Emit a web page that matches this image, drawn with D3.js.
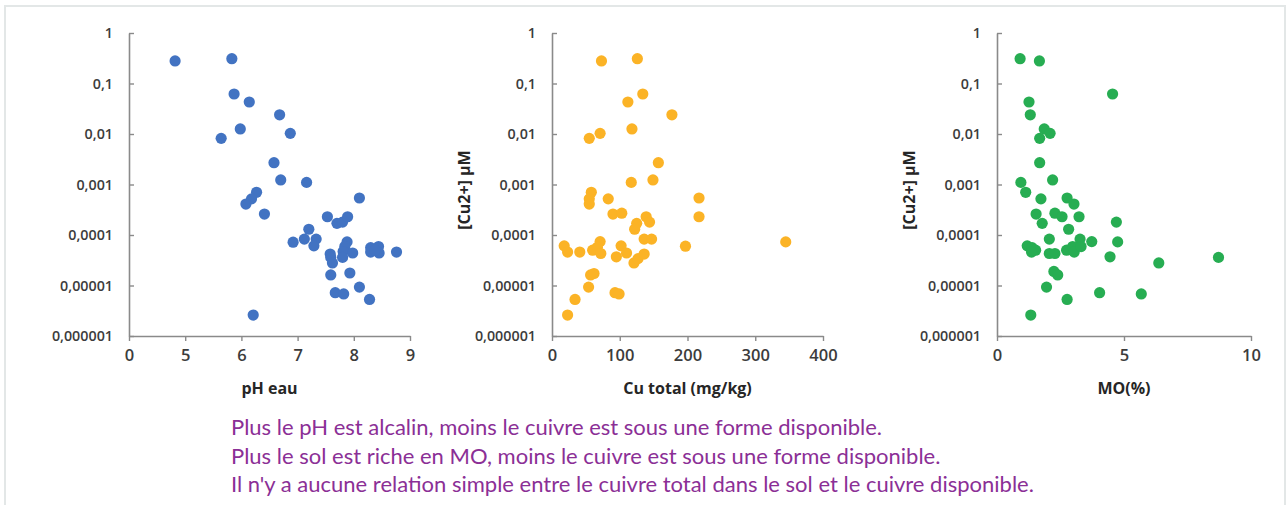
<!DOCTYPE html>
<html lang="fr">
<head>
<meta charset="utf-8">
<script src="https://cdn.jsdelivr.net/npm/d3@7"></script>
<style>
  html, body { margin: 0; padding: 0; background: #ffffff; }
  svg { display: block; }
</style>
</head>
<body>
<svg id="chart" width="1288" height="505"></svg>
<script>
// Dissolved copper [Cu2+] (µM) against three soil properties

// pH eau panel
const phValues = [4.82, 5.83, 5.87, 6.14, 6.68, 5.98, 5.64, 6.87, 6.58, 6.70, 7.16, 6.27, 6.18, 6.08,
  6.41, 8.10, 7.53, 7.70, 7.80, 7.89, 7.20, 6.92, 7.12, 7.33, 7.29, 7.88, 7.84, 7.81, 7.98, 7.80,
  7.58, 7.59, 7.62, 8.30, 8.44, 8.30, 8.45, 8.38, 8.76, 7.59, 7.93, 8.10, 7.67, 7.82, 8.28, 6.21];
const phCu = [0.28, 0.31, 0.062, 0.043, 0.024, 0.0126, 0.0082, 0.0103, 0.0027, 0.00123, 0.0011, 0.0007, 0.00052, 0.00041,
  0.00026, 0.00054, 0.00023, 0.00017, 0.00018, 0.00023, 0.00013, 0.000072, 0.000083, 0.000083, 0.000061, 0.000073, 0.000059, 0.000047, 0.000044, 0.000036,
  0.000042, 0.000036, 0.000028, 0.000056, 0.000059, 0.000046, 0.000044, 0.00005, 0.000046, 0.0000162, 0.0000177, 0.0000093, 0.0000072, 0.0000068, 0.0000053, 0.0000026];

// Cu total panel (mg/kg)
const cuTotalValues = [73, 126, 134, 112, 177, 118, 55, 71, 157, 149, 117, 58, 55, 55, 83, 90, 103, 217, 217,
  139, 144, 125, 122, 136, 147, 197, 345, 18, 23, 41, 60, 71, 67, 72, 102, 110, 95, 121, 127, 136,
  62, 57, 54, 93, 99, 34, 23];
const cuTotalCu = [0.28, 0.31, 0.062, 0.043, 0.024, 0.0126, 0.0082, 0.0103, 0.0027, 0.00123, 0.0011, 0.0007, 0.00052, 0.00041, 0.00052, 0.00026, 0.00027, 0.00054, 0.00023,
  0.00023, 0.00018, 0.00017, 0.00013, 0.000083, 0.000083, 0.00006, 0.000073, 0.000061, 0.000046, 0.000046, 0.00005, 0.000074, 0.000057, 0.000043, 0.000061, 0.000044, 0.000037, 0.000028, 0.000034, 0.000042,
  0.0000173, 0.0000162, 0.0000093, 0.0000072, 0.0000068, 0.0000053, 0.0000026];

// MO panel (%)
const moValues = [0.91, 1.67, 4.55, 1.26, 1.31, 1.86, 2.09, 1.68, 1.68, 0.94, 2.19, 1.13, 1.73, 2.76, 3.03,
  1.54, 2.28, 2.56, 3.23, 1.78, 4.70, 2.82, 2.06, 3.27, 3.73, 4.75, 1.19, 1.38, 1.52, 1.36, 2.06, 2.28,
  2.74, 2.98, 3.04, 3.31, 4.45, 6.37, 8.72, 2.24, 2.39, 1.95, 4.04, 5.68, 2.76, 1.33];
const moCu = [0.31, 0.28, 0.062, 0.043, 0.024, 0.0126, 0.0103, 0.0082, 0.0027, 0.0011, 0.00123, 0.0007, 0.00052, 0.00054, 0.00041,
  0.00026, 0.00027, 0.00023, 0.00023, 0.00017, 0.00018, 0.00013, 0.000083, 0.000083, 0.000074, 0.000073, 0.000061, 0.000056, 0.00005, 0.000046, 0.000043, 0.000043,
  0.00005, 0.000059, 0.000046, 0.000059, 0.000037, 0.000028, 0.000036, 0.000019, 0.0000162, 0.0000093, 0.0000072, 0.0000068, 0.0000053, 0.0000026];

// Shared logarithmic y axis
const yTickValues = [1, 0.1, 0.01, 0.001, 0.0001, 0.00001, 0.000001];
const yTickLabels = ["1", "0,1", "0,01", "0,001", "0,0001", "0,00001", "0,000001"];
const yTitle = "[Cu2+] µM";

// X axes
const phTicks = [4, 5, 6, 7, 8, 9];
const phTickLabels = ["0", "5", "6", "7", "8", "9"];
const cuTotalTicks = [0, 100, 200, 300, 400];
const cuTotalTickLabels = ["0", "100", "200", "300", "400"];
const moTicks = [0, 5, 10];
const moTickLabels = ["0", "5", "10"];

const captionLines = [
  "Plus le pH est alcalin, moins le cuivre est sous une forme disponible.",
  "Plus le sol est riche en MO, moins le cuivre est sous une forme disponible.",
  "Il n'y a aucune relation simple entre le cuivre total dans le sol et le cuivre disponible."
];

const panels = [
  { xs: phValues, ys: phCu, domain: [4, 9], ticks: phTicks, labels: phTickLabels,
    title: "pH eau", color: "#4273c2", left: 129, right: 410, showYTitle: false },
  { xs: cuTotalValues, ys: cuTotalCu, domain: [0, 400], ticks: cuTotalTicks, labels: cuTotalTickLabels,
    title: "Cu total (mg/kg)", color: "#fbb326", left: 552, right: 823, showYTitle: true },
  { xs: moValues, ys: moCu, domain: [0, 10], ticks: moTicks, labels: moTickLabels,
    title: "MO(%)", color: "#27ad52", left: 997, right: 1251, showYTitle: true }
];

const svg = d3.select("#chart");
const plotTop = 33, plotBottom = 336;
const axisColor = "#8a8a8a";
const textColor = "#3c3c3c";
const tickFont = "'Open Sans', 'DejaVu Sans', sans-serif";

// Outer frame
svg.append("rect")
  .attr("x", 5).attr("y", 6)
  .attr("width", 1280).attr("height", 520)
  .attr("fill", "none")
  .attr("stroke", "#e3e7e7")
  .attr("stroke-width", 2);

const y = d3.scaleLog().domain([0.000001, 1]).range([plotBottom, plotTop]);

panels.forEach(p => {
  const x = d3.scaleLinear().domain(p.domain).range([p.left, p.right]);
  const g = svg.append("g");

  // Y axis: ticks point inward, labels right-aligned left of the line
  const yAxis = d3.axisLeft(y)
    .tickValues(yTickValues)
    .tickFormat((d, i) => yTickLabels[i])
    .tickSizeInner(-5)
    .tickSizeOuter(0)
    .tickPadding(16);
  const gy = g.append("g").attr("transform", `translate(${p.left},0)`).call(yAxis);

  // X axis
  const xAxis = d3.axisBottom(x)
    .tickValues(p.ticks)
    .tickFormat((d, i) => p.labels[i])
    .tickSizeInner(5)
    .tickSizeOuter(0)
    .tickPadding(8);
  const gx = g.append("g").attr("transform", `translate(0,${plotBottom})`).call(xAxis);

  [gy, gx].forEach(a => {
    a.select(".domain").attr("stroke", axisColor).attr("stroke-width", 1.6);
    a.selectAll(".tick line").attr("stroke", axisColor).attr("stroke-width", 1.4);
    a.selectAll(".tick text")
      .attr("fill", textColor)
      .style("font-family", tickFont)
      .style("font-weight", 600);
  });
  gy.selectAll(".tick text").style("font-size", "14.3px");
  gx.selectAll(".tick text").style("font-size", "16.5px");

  // Axis titles
  g.append("text")
    .attr("x", (p.left + p.right) / 2)
    .attr("y", 394)
    .attr("text-anchor", "middle")
    .attr("fill", "#262626")
    .style("font-family", tickFont)
    .style("font-weight", 700)
    .style("font-size", "16px")
    .text(p.title);

  if (p.showYTitle) {
    g.append("text")
      .attr("transform", `translate(${p.left - 82},190) rotate(-90)`)
      .attr("text-anchor", "middle")
      .attr("fill", "#262626")
      .style("font-family", tickFont)
      .style("font-weight", 700)
      .style("font-size", "16px")
      .text(yTitle);
  }

  // Points
  g.append("g").selectAll("circle")
    .data(p.xs.map((v, i) => [v, p.ys[i]]))
    .join("circle")
    .attr("cx", d => x(d[0]))
    .attr("cy", d => y(d[1]))
    .attr("r", 5.6)
    .attr("fill", p.color);
});

// Caption
svg.append("g").selectAll("text")
  .data(captionLines)
  .join("text")
  .attr("x", 231)
  .attr("y", (d, i) => 435 + i * 28.6)
  .attr("fill", "#8b2f96")
  .style("font-family", "Lato, 'Open Sans', sans-serif")
  .style("font-size", "22px")
  .text(d => d);
</script>
</body>
</html>
